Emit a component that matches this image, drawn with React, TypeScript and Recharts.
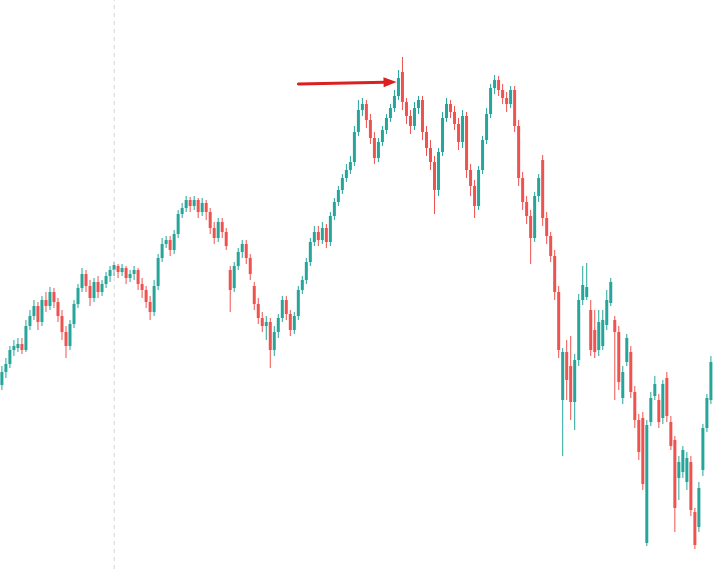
import React from "react";
import { ComposedChart, Bar, XAxis, YAxis, ReferenceLine } from "recharts";

const opens = [
  184,197,205,219,221,225,219,243,253,263,
  247,269,263,277,267,253,237,223,245,265,
  281,295,283,271,287,277,285,293,299,303,
  297,301,291,295,299,285,279,267,257,283,
  311,325,329,319,335,355,361,369,363,369,
  357,366,357,341,331,347,337,299,281,303,
  317,325,311,283,265,251,243,247,219,237,
  251,269,255,239,253,279,289,307,327,337,
  329,341,327,353,367,379,391,399,407,437,
  459,465,449,431,411,427,439,451,461,473,
  497,467,453,443,461,469,437,421,407,379,
  417,451,465,457,445,427,453,399,383,363,
  399,429,455,481,489,479,471,465,479,443,
  391,367,353,331,373,409,351,333,313,277,
  169,217,203,167,209,269,272,259,239,219,
  223,244,266,249,237,171,207,217,177,149,
  151,26,147,173,169,151,191,147,129,91,
  97,87,107,57,42,99,141,169,
];

const closes = [
  197,205,219,223,225,219,243,253,263,247,
  269,263,277,267,253,237,223,245,265,281,
  295,283,271,287,277,285,293,299,304,297,
  301,291,295,299,285,279,267,257,283,311,
  325,329,319,335,355,361,369,363,369,357,
  366,357,341,331,347,337,323,279,303,317,
  325,311,295,265,251,243,247,219,237,251,
  269,255,239,253,279,289,307,327,337,329,
  341,327,353,367,379,391,399,407,437,459,
  465,449,431,411,427,439,451,461,473,491,
  467,453,443,461,469,437,421,407,379,417,
  451,465,457,445,427,453,399,383,363,399,
  429,455,481,489,479,471,465,479,443,391,
  367,353,331,373,391,351,333,313,277,219,
  217,189,167,209,269,284,282,219,217,247,
  249,269,287,237,187,197,231,177,149,117,
  85,144,171,185,147,185,153,123,61,107,
  119,111,59,24,81,141,171,207,
];

const highs = [
  203,211,223,229,231,231,249,259,269,267,
  273,277,282,281,271,259,243,249,269,285,
  301,299,289,291,293,289,297,303,307,305,
  305,303,299,303,301,291,283,273,289,315,
  331,333,333,339,359,366,373,372,373,371,
  371,369,361,347,351,351,341,303,307,321,
  329,329,315,287,271,257,253,251,243,255,
  273,273,259,257,283,293,311,331,343,343,
  347,345,357,371,383,395,405,413,443,469,
  471,469,455,437,431,443,455,465,479,499,
  512,471,459,467,473,473,443,429,413,421,
  457,471,469,463,451,459,457,405,389,403,
  433,461,485,494,493,485,477,483,483,449,
  397,373,359,377,395,414,357,337,319,283,
  221,229,233,215,275,303,306,269,259,259,
  259,279,291,253,243,203,235,223,183,155,
  157,149,177,193,175,189,197,153,133,113,
  123,117,113,61,87,145,175,213,
];

const lows = [
  179,191,201,213,217,215,217,239,249,239,
  243,257,259,261,247,229,211,219,241,261,
  277,277,263,267,271,273,281,287,293,291,
  293,285,287,289,279,271,261,249,253,279,
  307,321,313,315,331,351,357,357,359,351,
  353,349,335,325,327,331,319,257,277,299,
  311,305,289,259,245,237,229,201,213,231,
  247,249,233,235,249,275,285,303,323,323,
  325,321,323,349,363,375,387,395,403,433,
  453,441,425,405,407,423,435,447,457,469,
  459,445,435,439,455,429,413,399,355,373,
  413,447,451,439,419,421,391,373,351,359,
  395,425,451,475,473,465,457,461,437,383,
  359,345,305,327,367,343,325,307,269,211,
  113,169,149,139,203,264,269,213,211,213,
  219,239,263,169,179,165,203,171,141,109,
  79,23,143,169,141,145,147,119,37,69,
  91,79,53,20,37,93,137,165,
];

const categories = opens.map((_, i) => `D${i + 1}`);

const markerDay = "D29";
const arrowFrom = { day: "D75", price: 485 };
const arrowTo = { day: "D99", price: 487 };

const UP = "#26a69a";
const DOWN = "#ef5350";

const data = categories.map((d, i) => ({
  d,
  open: opens[i],
  close: closes[i],
  high: highs[i],
  low: lows[i],
  range: [lows[i], highs[i]],
}));

const Candle = (props: any) => {
  const { x, y, width, height, payload } = props;
  if (!payload) return null;
  const { open, close, high, low } = payload;
  const top = Math.min(y, y + height);
  const h = Math.abs(height);
  const span = high - low || 1;
  const k = h / span;
  const cx = x + width / 2;
  const yO = top + (high - open) * k;
  const yC = top + (high - close) * k;
  const bodyTop = Math.min(yO, yC);
  const bodyH = Math.max(1, Math.abs(yO - yC));
  const color = close >= open ? UP : DOWN;
  const bw = 3;
  return (
    <g>
      <rect x={cx - 0.5} y={top} width={1} height={h} fill={color} />
      <rect x={cx - bw / 2} y={bodyTop} width={bw} height={bodyH} fill={color} />
    </g>
  );
};

const Arrow = (props: any) => {
  const { x1, y1, x2, y2 } = props;
  if ([x1, y1, x2, y2].some((v) => v == null || isNaN(v))) return null;
  const ang = Math.atan2(y2 - y1, x2 - x1);
  const len = 13;
  const half = 5;
  const tipX = x2 + 2;
  const tipY = y2;
  const bx = tipX - len * Math.cos(ang);
  const by = tipY - len * Math.sin(ang);
  const px = -Math.sin(ang) * half;
  const py = Math.cos(ang) * half;
  return (
    <g>
      <line x1={x1} y1={y1} x2={bx + 1} y2={by} stroke="#dc1f1f" strokeWidth={3} strokeLinecap="round" />
      <polygon
        points={`${tipX},${tipY} ${bx + px},${by + py} ${bx - px},${by - py}`}
        fill="#dc1f1f"
      />
    </g>
  );
};

export default function App() {
  return (
    <div style={{ position: "absolute", left: 0, top: 0, width: 713, height: 569, background: "#ffffff" }}>
      <ComposedChart
        width={713}
        height={569}
        data={data}
        margin={{ top: 0, right: 0, bottom: 0, left: 0 }}
      >
        <XAxis dataKey="d" hide />
        <YAxis hide domain={[0, 569]} allowDataOverflow />
        <ReferenceLine x={markerDay} stroke="#d4d4d4" strokeDasharray="4 4" strokeWidth={1} />
        <Bar dataKey="range" shape={<Candle />} isAnimationActive={false} />
        <ReferenceLine
          segment={[
            { x: arrowFrom.day, y: arrowFrom.price },
            { x: arrowTo.day, y: arrowTo.price },
          ]}
          shape={(p: any) => <Arrow {...p} />}
          ifOverflow="visible"
        />
      </ComposedChart>
    </div>
  );
}
